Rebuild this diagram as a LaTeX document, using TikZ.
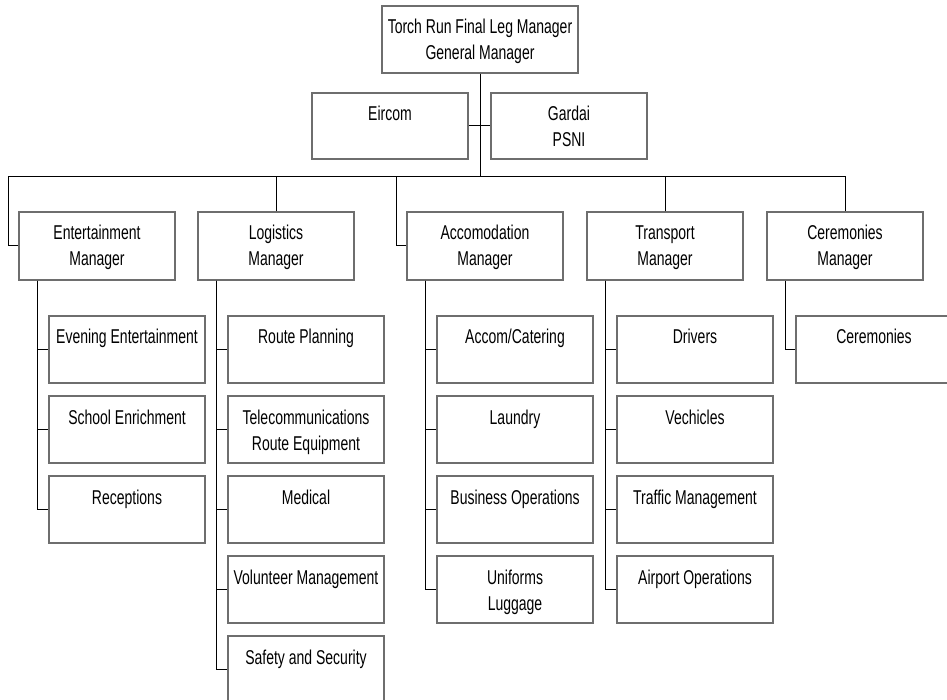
\documentclass[tikz,border=0pt]{standalone}
\usepackage{fontspec}
\setmainfont{Liberation Sans}[FakeStretch=0.7]
\definecolor{boxline}{RGB}{110,110,110}
\newcommand\boxtxt[3]{\parbox[c][#2][t]{#1}{\fontsize{20}{26}\selectfont\centering\rule{0pt}{28pt}#3}}
\tikzset{
  orgbox/.style={draw=boxline, line width=1.1pt, inner sep=0pt, fill=white},
  conn/.style={draw=black, line width=1pt}
}
\begin{document}
\begin{tikzpicture}[x=1pt,y=-1pt]
\clip (0,0) rectangle (947,700);
\fill[white] (0,0) rectangle (947,700);
% top level
\node[orgbox] (top) at (480,39.5) {\boxtxt{196pt}{67pt}{Torch Run Final Leg Manager\\General Manager}};
\node[orgbox] (eir) at (390,126) {\boxtxt{156pt}{66pt}{Eircom}};
\node[orgbox] (gar) at (569,126) {\boxtxt{156pt}{66pt}{Gardai\\PSNI}};
% managers
\node[orgbox] (ent) at (97,246) {\boxtxt{156pt}{68pt}{Entertainment\\Manager}};
\node[orgbox] (log) at (276,246) {\boxtxt{156pt}{68pt}{Logistics\\Manager}};
\node[orgbox] (acc) at (485,246) {\boxtxt{156pt}{68pt}{Accomodation\\Manager}};
\node[orgbox] (tra) at (665,246) {\boxtxt{156pt}{68pt}{Transport\\Manager}};
\node[orgbox] (cer) at (845,246) {\boxtxt{156pt}{68pt}{Ceremonies\\Manager}};
% entertainment children
\node[orgbox] (e1) at (127,349.5) {\boxtxt{156pt}{67pt}{Evening Entertainment}};
\node[orgbox] (e2) at (127,429.5) {\boxtxt{156pt}{67pt}{School Enrichment}};
\node[orgbox] (e3) at (127,509.5) {\boxtxt{156pt}{67pt}{Receptions}};
% logistics children
\node[orgbox] (l1) at (306,349.5) {\boxtxt{156pt}{67pt}{Route Planning}};
\node[orgbox] (l2) at (306,429.5) {\boxtxt{156pt}{67pt}{Telecommunications\\Route Equipment}};
\node[orgbox] (l3) at (306,509.5) {\boxtxt{156pt}{67pt}{Medical}};
\node[orgbox] (l4) at (306,589.5) {\boxtxt{156pt}{67pt}{Volunteer Management}};
\node[orgbox] (l5) at (306,669.5) {\boxtxt{156pt}{67pt}{Safety and Security}};
% accomodation children
\node[orgbox] (a1) at (515,349.5) {\boxtxt{156pt}{67pt}{Accom/Catering}};
\node[orgbox] (a2) at (515,429.5) {\boxtxt{156pt}{67pt}{Laundry}};
\node[orgbox] (a3) at (515,509.5) {\boxtxt{156pt}{67pt}{Business Operations}};
\node[orgbox] (a4) at (515,589.5) {\boxtxt{156pt}{67pt}{Uniforms\\Luggage}};
% transport children
\node[orgbox] (t1) at (695,349.5) {\boxtxt{156pt}{67pt}{Drivers}};
\node[orgbox] (t2) at (695,429.5) {\boxtxt{156pt}{67pt}{Vechicles}};
\node[orgbox] (t3) at (695,509.5) {\boxtxt{156pt}{67pt}{Traffic Management}};
\node[orgbox] (t4) at (695,589.5) {\boxtxt{156pt}{67pt}{Airport Operations}};
% ceremonies children
\node[orgbox] (c1) at (874,349.5) {\boxtxt{156pt}{67pt}{Ceremonies}};
% connectors top
\coordinate (busL) at (8,177);
\coordinate (busR) at (845,177);
\coordinate (accB) at (396,177);
\draw[conn] (top.south) -- (top.south |- busL);
\draw[conn] (eir.east) -- (gar.west);
\draw[conn] (ent.west) -| (busL) -- (busR) -- (cer.north);
\draw[conn] (log.north) -- (log.north |- busL);
\draw[conn] (tra.north) -- (tra.north |- busL);
\draw[conn] (acc.west) -| (accB);
% spines
\foreach \c in {e1,e2,e3} \draw[conn] ([xshift=19pt]ent.south west) |- (\c.west);
\foreach \c in {l1,l2,l3,l4,l5} \draw[conn] ([xshift=19pt]log.south west) |- (\c.west);
\foreach \c in {a1,a2,a3,a4} \draw[conn] ([xshift=19pt]acc.south west) |- (\c.west);
\foreach \c in {t1,t2,t3,t4} \draw[conn] ([xshift=19pt]tra.south west) |- (\c.west);
\draw[conn] ([xshift=19pt]cer.south west) |- (c1.west);
\end{tikzpicture}
\end{document}
